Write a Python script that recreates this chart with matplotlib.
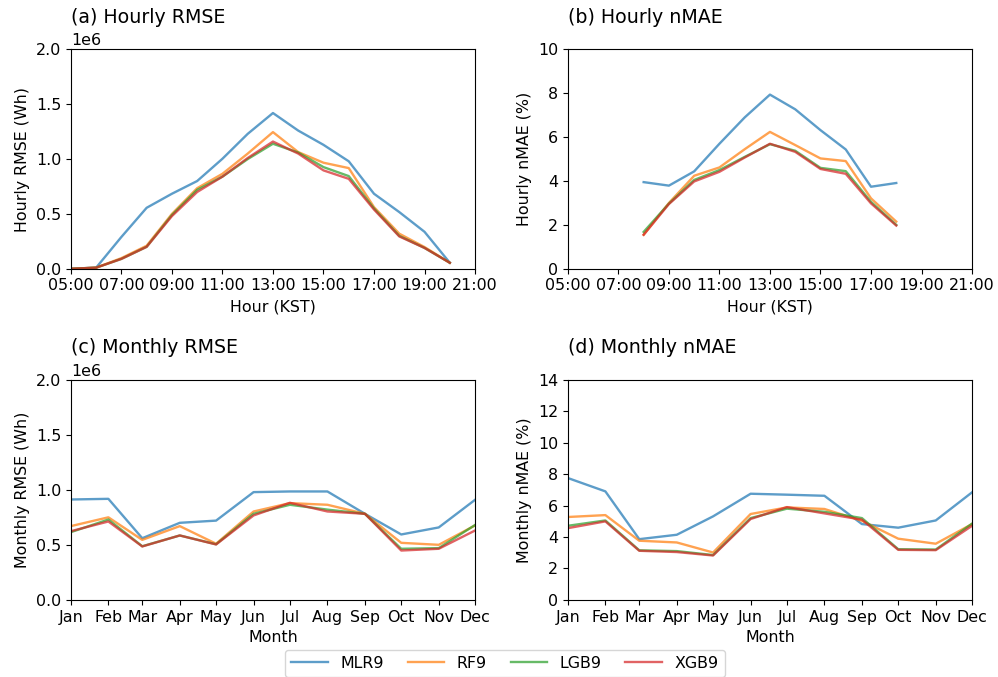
import datetime as dt
import matplotlib
matplotlib.use("Agg")
import matplotlib.pyplot as plt
import matplotlib.dates as mdates

plt.rcParams["font.size"] = 11.4
plt.rcParams["lines.linewidth"] = 1.7

models = ["MLR9", "RF9", "LGB9", "XGB9"]
colors = ["#1f77b4", "#ff7f0e", "#2ca02c", "#d62728"]

# hourly RMSE (Wh, x1e6), 05:00 .. 20:00
rmse_hours = list(range(5, 21))
hourly_rmse = {
    "MLR9": [0.0, 0.01, 0.29, 0.556, 0.684, 0.80, 1.003, 1.23, 1.42, 1.26, 1.13, 0.98, 0.684, 0.517, 0.337, 0.055],
    "RF9":  [0.0, 0.01, 0.097, 0.21, 0.50, 0.735, 0.866, 1.05, 1.246, 1.064, 0.967, 0.918, 0.562, 0.32, 0.198, 0.055],
    "LGB9": [0.0, 0.01, 0.09, 0.20, 0.49, 0.72, 0.84, 1.00, 1.14, 1.06, 0.927, 0.845, 0.55, 0.30, 0.19, 0.055],
    "XGB9": [0.0, 0.01, 0.09, 0.20, 0.48, 0.70, 0.84, 1.01, 1.16, 1.05, 0.897, 0.82, 0.54, 0.295, 0.19, 0.055],
}

# hourly nMAE (%), 08:00 .. 18:00
nmae_hours = list(range(8, 19))
hourly_nmae = {
    "MLR9": [3.95, 3.79, 4.44, 5.7, 6.9, 7.94, 7.27, 6.32, 5.44, 3.74, 3.91],
    "RF9":  [1.55, 3.0, 4.24, 4.62, 5.45, 6.24, 5.64, 5.03, 4.91, 3.21, 2.15],
    "LGB9": [1.68, 2.97, 4.05, 4.5, 5.1, 5.68, 5.38, 4.6, 4.45, 3.05, 2.0],
    "XGB9": [1.55, 2.95, 3.98, 4.42, 5.07, 5.7, 5.33, 4.55, 4.33, 2.98, 1.97],
}

months = list(range(1, 13))
monthly_rmse = {
    "MLR9": [0.912, 0.918, 0.56, 0.70, 0.72, 0.979, 0.985, 0.985, 0.782, 0.594, 0.658, 0.909],
    "RF9":  [0.67, 0.75, 0.545, 0.67, 0.51, 0.803, 0.879, 0.864, 0.782, 0.518, 0.50, 0.676],
    "LGB9": [0.615, 0.73, 0.487, 0.585, 0.505, 0.782, 0.864, 0.82, 0.782, 0.464, 0.47, 0.68],
    "XGB9": [0.624, 0.712, 0.485, 0.585, 0.503, 0.767, 0.882, 0.803, 0.782, 0.448, 0.464, 0.63],
}
monthly_nmae = {
    "MLR9": [7.75, 6.9, 3.86, 4.14, 5.31, 6.75, 6.69, 6.62, 4.82, 4.59, 5.05, 6.84],
    "RF9":  [5.27, 5.39, 3.76, 3.65, 3.01, 5.46, 5.88, 5.78, 5.03, 3.89, 3.57, 4.82],
    "LGB9": [4.71, 5.05, 3.15, 3.1, 2.85, 5.2, 5.8, 5.6, 5.2, 3.22, 3.2, 4.85],
    "XGB9": [4.56, 4.99, 3.12, 3.04, 2.82, 5.14, 5.9, 5.5, 5.1, 3.18, 3.16, 4.71],
}

day = dt.datetime(2021, 1, 1)
t_rmse = [day.replace(hour=h) for h in rmse_hours]
t_nmae = [day.replace(hour=h) for h in nmae_hours]
t_month = [dt.datetime(2021, m, 1) for m in months]

fig = plt.figure(figsize=(9.98, 6.77), dpi=100)
ax_a = fig.add_axes([0.071, 0.603, 0.405, 0.324])
ax_b = fig.add_axes([0.569, 0.603, 0.405, 0.324])
ax_c = fig.add_axes([0.071, 0.114, 0.405, 0.325])
ax_d = fig.add_axes([0.569, 0.114, 0.405, 0.325])

lines = []
for m, c in zip(models, colors):
    l, = ax_a.plot(t_rmse, [v * 1e6 for v in hourly_rmse[m]], color=c, alpha=0.72, label=m)
    lines.append(l)
    ax_b.plot(t_nmae, hourly_nmae[m], color=c, alpha=0.72)
    ax_c.plot(t_month, [v * 1e6 for v in monthly_rmse[m]], color=c, alpha=0.72)
    ax_d.plot(t_month, monthly_nmae[m], color=c, alpha=0.72)

for ax in (ax_a, ax_b):
    ax.set_xlim(day.replace(hour=5), day.replace(hour=21))
    ax.xaxis.set_major_locator(mdates.HourLocator(interval=2))
    ax.xaxis.set_major_formatter(mdates.DateFormatter("%H:%M"))
    ax.set_xlabel("Hour (KST)")
for ax in (ax_c, ax_d):
    ax.set_xlim(t_month[0], t_month[-1])
    ax.xaxis.set_major_locator(mdates.MonthLocator())
    ax.xaxis.set_major_formatter(mdates.DateFormatter("%b"))
    ax.set_xlabel("Month")

ax_a.set_ylim(0, 2e6)
ax_c.set_ylim(0, 2e6)
ax_b.set_ylim(0, 10)
ax_d.set_ylim(0, 14)
ax_d.set_yticks(range(0, 15, 2))

ax_a.set_ylabel("Hourly RMSE (Wh)")
ax_b.set_ylabel("Hourly nMAE (%)")
ax_c.set_ylabel("Monthly RMSE (Wh)")
ax_d.set_ylabel("Monthly nMAE (%)")

titles = ["(a) Hourly RMSE", "(b) Hourly nMAE", "(c) Monthly RMSE", "(d) Monthly nMAE"]
for ax, t in zip((ax_a, ax_b, ax_c, ax_d), titles):
    ax.set_title(t, loc="left", fontsize=13.7, y=1.12, pad=0)

fig.legend(lines, models, loc="lower center", bbox_to_anchor=(0.506, -0.012),
           ncol=4, handlelength=2.3, columnspacing=1.5)

fig.savefig("out.png", dpi=100)
